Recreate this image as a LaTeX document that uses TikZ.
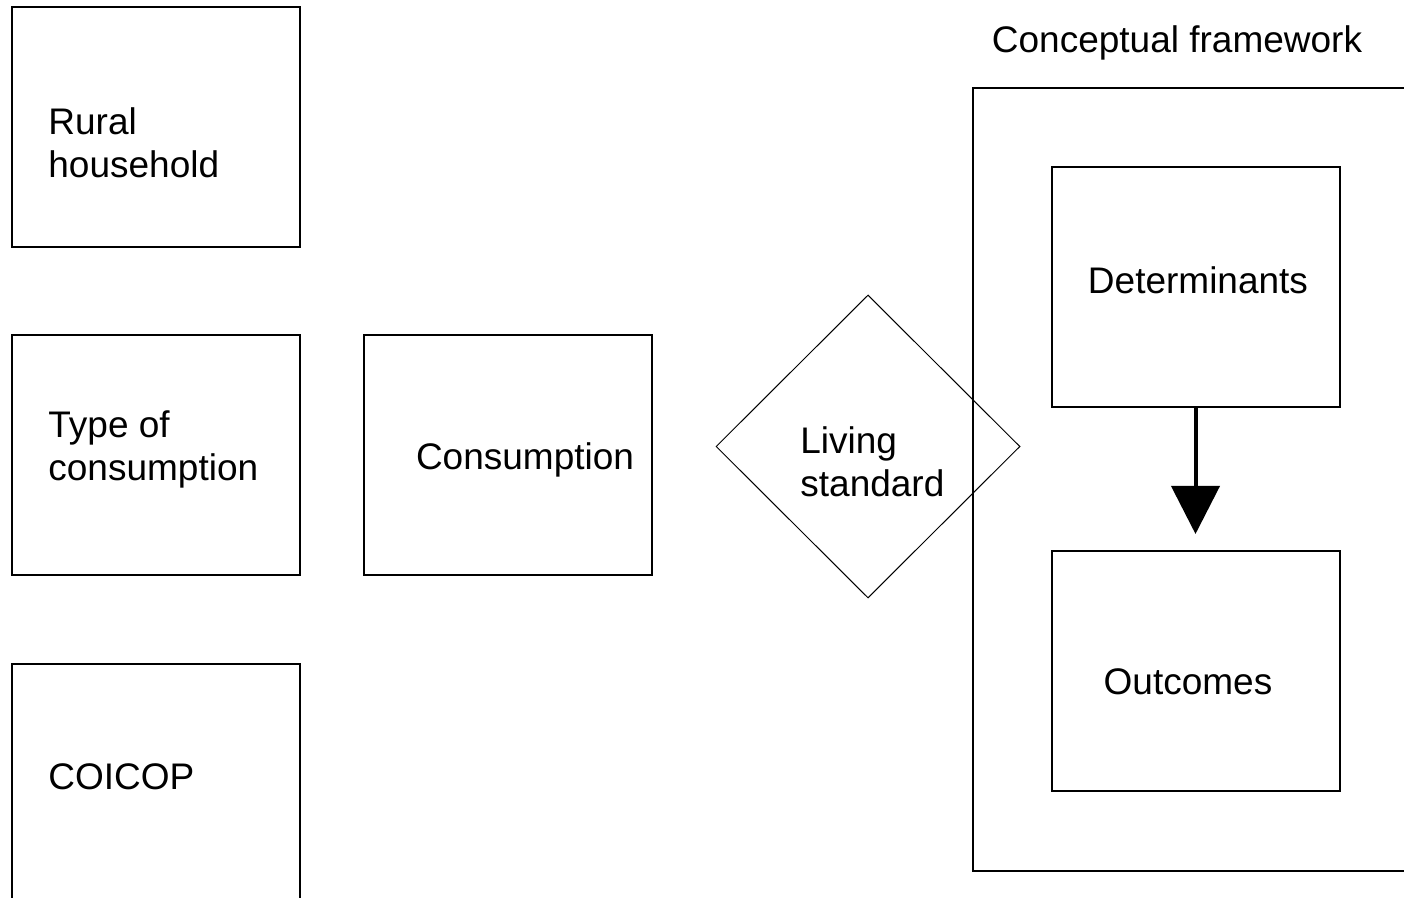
\documentclass[tikz,border=0pt]{standalone}
\usepackage{fontspec}
\setmainfont{Liberation Sans}
\usetikzlibrary{shapes.geometric,arrows.meta}
\begin{document}
\begin{tikzpicture}[x=0.5pt,y=-0.5pt,
  box/.style={draw=black,line width=1pt,rectangle,inner sep=0pt,minimum width=144pt,minimum height=120pt},
  lbl/.style={inner sep=0pt,font=\fontsize{18.5pt}{21.5pt}\selectfont,align=left},
  dia/.style={draw=black,line width=0.5pt,diamond,inner sep=0pt,minimum width=152pt,minimum height=151.5pt,aspect=1}]
\useasboundingbox (0,0) rectangle (1404,898);
\clip (0,0) rectangle (1404,898);
% boxes
\node[box] (rural) at (156,127) {};
\node[box] (type) at (156,455) {};
\node[box,minimum height=150pt,anchor=north] (coicop) at (156,663) {};
\node[box] (cons) at (508,455) {};
\node[box,minimum width=240pt,minimum height=391.5pt,anchor=north west] (frame) at (972,87) {};
\node[box] (det) at (1195.5,287) {};
\node[box] (out) at (1195.5,671) {};
\node[dia] (living) at (868,446.5) {};
% labels
\node[lbl,anchor=base west] (trural) at (48,178) {Rural\\household};
\node[lbl,anchor=base west] (ttype) at (48,481) {Type of\\consumption};
\node[lbl,anchor=base west] (tcoicop) at (48,789) {COICOP};
\node[lbl,anchor=base] (tcons) at (525,470) {Consumption};
\node[lbl,anchor=base west] (tliving) at (800,497) {Living\\standard};
\node[lbl,anchor=base] (tdet) at (1198,294) {Determinants};
\node[lbl,anchor=base] (tout) at (1188,694) {Outcomes};
\node[lbl,anchor=base] (tframe) at (1177,53) {Conceptual framework};
% arrow
\draw[line width=2pt,-{Triangle[length=24pt,width=24pt]}] (det.south) -- ([yshift=8pt]out.north);
\end{tikzpicture}
\end{document}
